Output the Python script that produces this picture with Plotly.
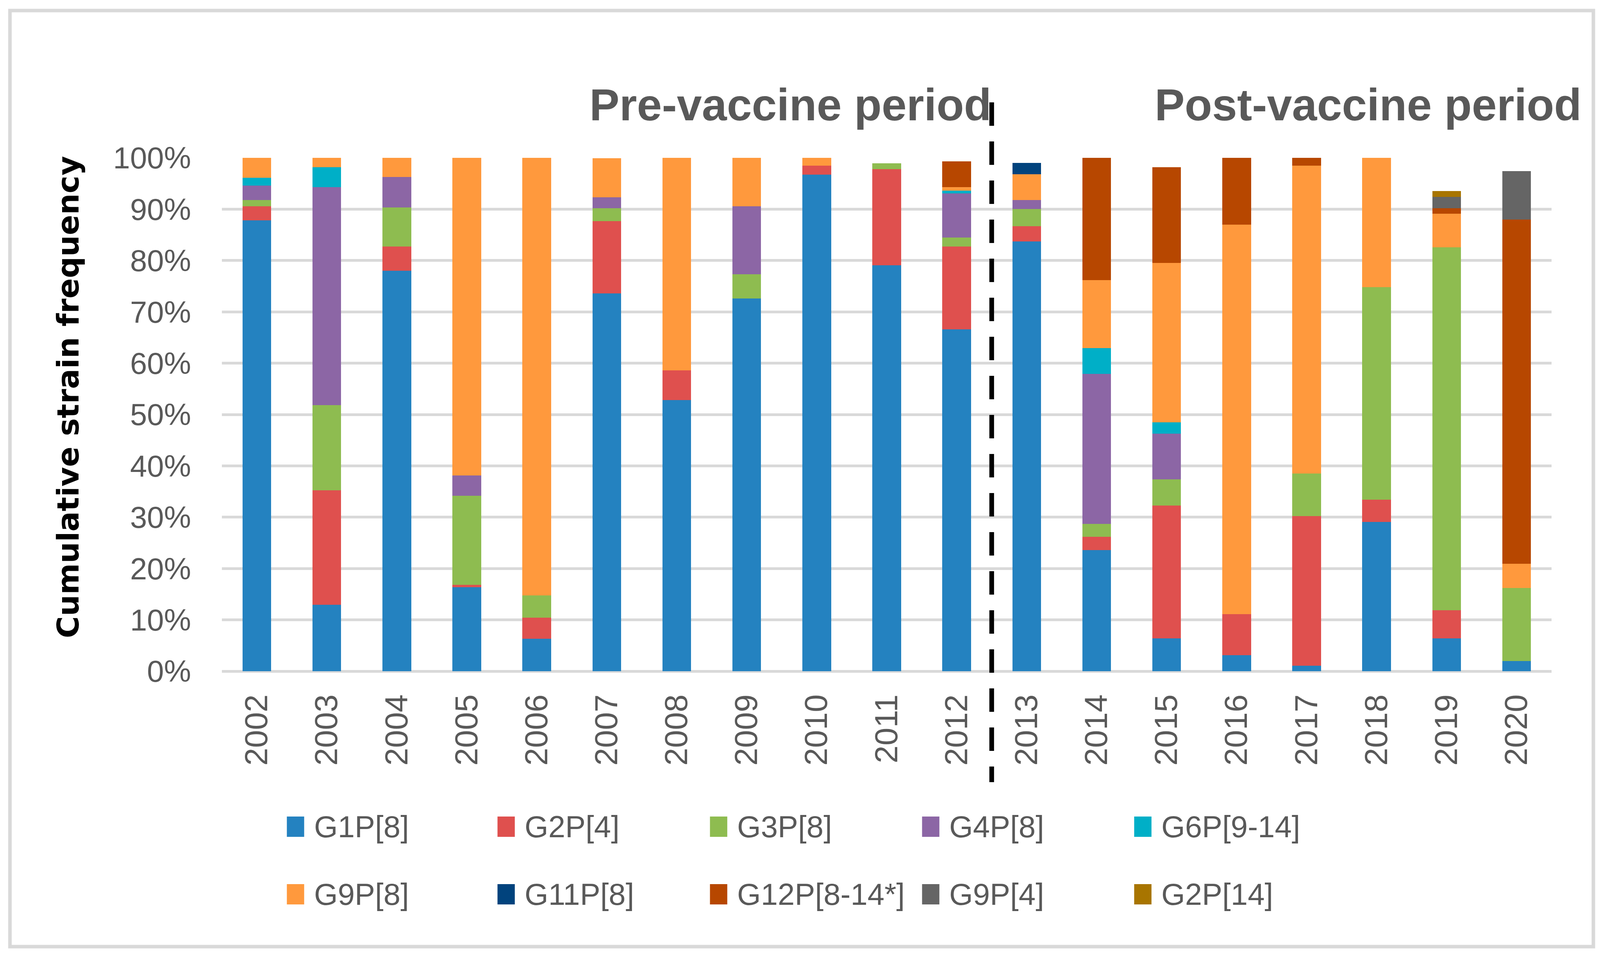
import plotly.graph_objects as go

years = [str(y) for y in range(2002, 2021)]

strains = ["G1P[8]", "G2P[4]", "G3P[8]", "G4P[8]", "G6P[9-14]",
           "G9P[8]", "G11P[8]", "G12P[8-14*]", "G9P[4]", "G2P[14]"]

g1p8 = [87.8, 12.9, 78.0, 16.4, 6.3, 73.6, 52.8, 72.6, 96.7, 79.1, 66.6, 83.7, 23.6, 6.4, 3.1, 1.1, 29.1, 6.4, 2.0]
g2p4 = [2.8, 22.3, 4.7, 0.4, 4.1, 14.1, 5.8, 0.0, 1.8, 18.7, 16.1, 3.0, 2.6, 25.9, 8.0, 29.1, 4.3, 5.5, 0.0]
g3p8 = [1.2, 16.6, 7.6, 17.4, 4.4, 2.5, 0.0, 4.7, 0.0, 1.1, 1.8, 3.3, 2.5, 5.1, 0.0, 8.3, 41.4, 70.7, 14.2]
g4p8 = [2.8, 42.5, 6.0, 3.9, 0.0, 2.1, 0.0, 13.3, 0.0, 0.0, 8.6, 1.8, 29.2, 8.9, 0.0, 0.0, 0.0, 0.0, 0.0]
g6p914 = [1.5, 3.9, 0.0, 0.0, 0.0, 0.0, 0.0, 0.0, 0.0, 0.0, 0.5, 0.0, 5.0, 2.2, 0.0, 0.0, 0.0, 0.0, 0.0]
g9p8 = [3.9, 1.8, 3.7, 61.9, 85.3, 7.6, 41.4, 9.4, 1.5, 0.0, 0.7, 5.0, 13.3, 31.0, 75.9, 60.0, 25.2, 6.5, 4.7]
g11p8 = [0.0, 0.0, 0.0, 0.0, 0.0, 0.0, 0.0, 0.0, 0.0, 0.0, 0.0, 2.2, 0.0, 0.0, 0.0, 0.0, 0.0, 0.0, 0.0]
g12p814 = [0.0, 0.0, 0.0, 0.0, 0.0, 0.0, 0.0, 0.0, 0.0, 0.0, 5.0, 0.0, 23.8, 18.7, 13.0, 1.5, 0.0, 1.1, 67.1]
g9p4 = [0.0, 0.0, 0.0, 0.0, 0.0, 0.0, 0.0, 0.0, 0.0, 0.0, 0.0, 0.0, 0.0, 0.0, 0.0, 0.0, 0.0, 2.2, 9.4]
g2p14 = [0.0, 0.0, 0.0, 0.0, 0.0, 0.0, 0.0, 0.0, 0.0, 0.0, 0.0, 0.0, 0.0, 0.0, 0.0, 0.0, 0.0, 1.1, 0.0]

series = [g1p8, g2p4, g3p8, g4p8, g6p914, g9p8, g11p8, g12p814, g9p4, g2p14]

colors = ["#2482C0", "#DF504E", "#8EBC50", "#8C66A5", "#00AFC7",
          "#FF993D", "#01437D", "#B74700", "#656565", "#A87500"]

y_ticks = list(range(0, 101, 10))
y_ticktext = [f"{v}%" for v in y_ticks]
period_labels = ["Pre-vaccine period", "Post-vaccine period"]
y_title = "Cumulative strain frequency"

# The browser viewport is 4096 px wide (page has an 8 px body margin),
# so the layout is the reference layout squeezed horizontally to fit.
VIEW_W, VIEW_H = 4096, 2447
SX = VIEW_W / 4345.0
BODY = 8
W, H = VIEW_W - 2 * BODY, VIEW_H - 2 * BODY


def fx(ref_x):
    return ref_x * SX - BODY


def fy(ref_y):
    return ref_y - BODY


PLOT_L, PLOT_R = fx(603), fx(4213)
PLOT_T, PLOT_B = fy(404), fy(1718)
ML, MR = round(PLOT_L), round(W - PLOT_R)
MT, MB = round(PLOT_T), round(H - PLOT_B)
PW, PH = W - ML - MR, H - MT - MB


def px_x(ref_x):
    return (fx(ref_x) - ML) / PW


def px_y(ref_y):
    return (MT + PH - fy(ref_y)) / PH


TXT = "#595959"
FONT = "Liberation Sans, Arial, sans-serif"

fig = go.Figure()
for name, vals, col in zip(strains, series, colors):
    fig.add_trace(go.Bar(x=years, y=vals, name=name, marker_color=col,
                         marker_line_width=0, showlegend=False))

fig.update_layout(
    width=W, height=H,
    margin=dict(l=ML, r=MR, t=MT, b=MB),
    barmode="stack", bargap=0.59,
    plot_bgcolor="white", paper_bgcolor="white",
    font=dict(family=FONT, color=TXT),
    xaxis=dict(type="category", tickangle=-90, tickfont=dict(size=82, color=TXT),
               showgrid=False, showline=False, zeroline=False, ticks="",
               ticklabelstandoff=42),
    yaxis=dict(range=[0, 100], tickvals=y_ticks, ticktext=y_ticktext,
               tickfont=dict(size=78, color=TXT), showgrid=True,
               gridcolor="#D9D9D9", gridwidth=7, zeroline=True,
               zerolinecolor="#D9D9D9", zerolinewidth=7, showline=False,
               ticks="", ticklabelstandoff=78),
)

shapes = []
annotations = []

# outer grey frame
shapes.append(dict(type="rect", xref="paper", yref="paper",
                   x0=px_x(27), x1=px_x(4327), y0=px_y(27), y1=px_y(2423),
                   line=dict(color="#D9D9D9", width=9), layer="below"))

# dashed separator between 2012 and 2013
shapes.append(dict(type="line", xref="x", yref="paper", x0=10.5, x1=10.5,
                   y0=px_y(262), y1=px_y(2002),
                   line=dict(color="black", width=12, dash="60px,40px")))

# period titles
annotations.append(dict(text=period_labels[0], xref="paper", yref="paper",
                        x=px_x(2694), y=px_y(268), xanchor="right", yanchor="middle",
                        showarrow=False, font=dict(size=115, color=TXT, family=FONT, weight="bold")))
annotations.append(dict(text=period_labels[1], xref="paper", yref="paper",
                        x=px_x(3134), y=px_y(268), xanchor="left", yanchor="middle",
                        showarrow=False, font=dict(size=115, color=TXT, family=FONT, weight="bold")))

# y axis title
annotations.append(dict(text="<b>" + y_title + "</b>", xref="paper", yref="paper",
                        x=px_x(185), y=px_y(1016), xanchor="center", yanchor="middle",
                        textangle=-90, showarrow=False,
                        font=dict(size=77, color="black", family="DejaVu Sans, Verdana, sans-serif")))

# legend: 2 rows x 5 columns of swatches + labels
col_left = [779, 1351, 1928, 2504, 3080]
row_mid = [2116, 2289]
for i, (name, col) in enumerate(zip(strains, colors)):
    r, c = divmod(i, 5)
    x0 = col_left[c]
    yc = row_mid[r]
    shapes.append(dict(type="rect", xref="paper", yref="paper",
                       x0=px_x(x0), x1=px_x(x0 + 47), y0=px_y(yc - 26), y1=px_y(yc + 26),
                       fillcolor=col, line=dict(width=0)))
    annotations.append(dict(text=name, xref="paper", yref="paper",
                            x=px_x(x0 + 72), y=px_y(yc), xanchor="left", yanchor="middle",
                            showarrow=False, font=dict(size=78, color=TXT, family=FONT)))

fig.update_layout(shapes=shapes, annotations=annotations)

fig.write_html("out.html")
